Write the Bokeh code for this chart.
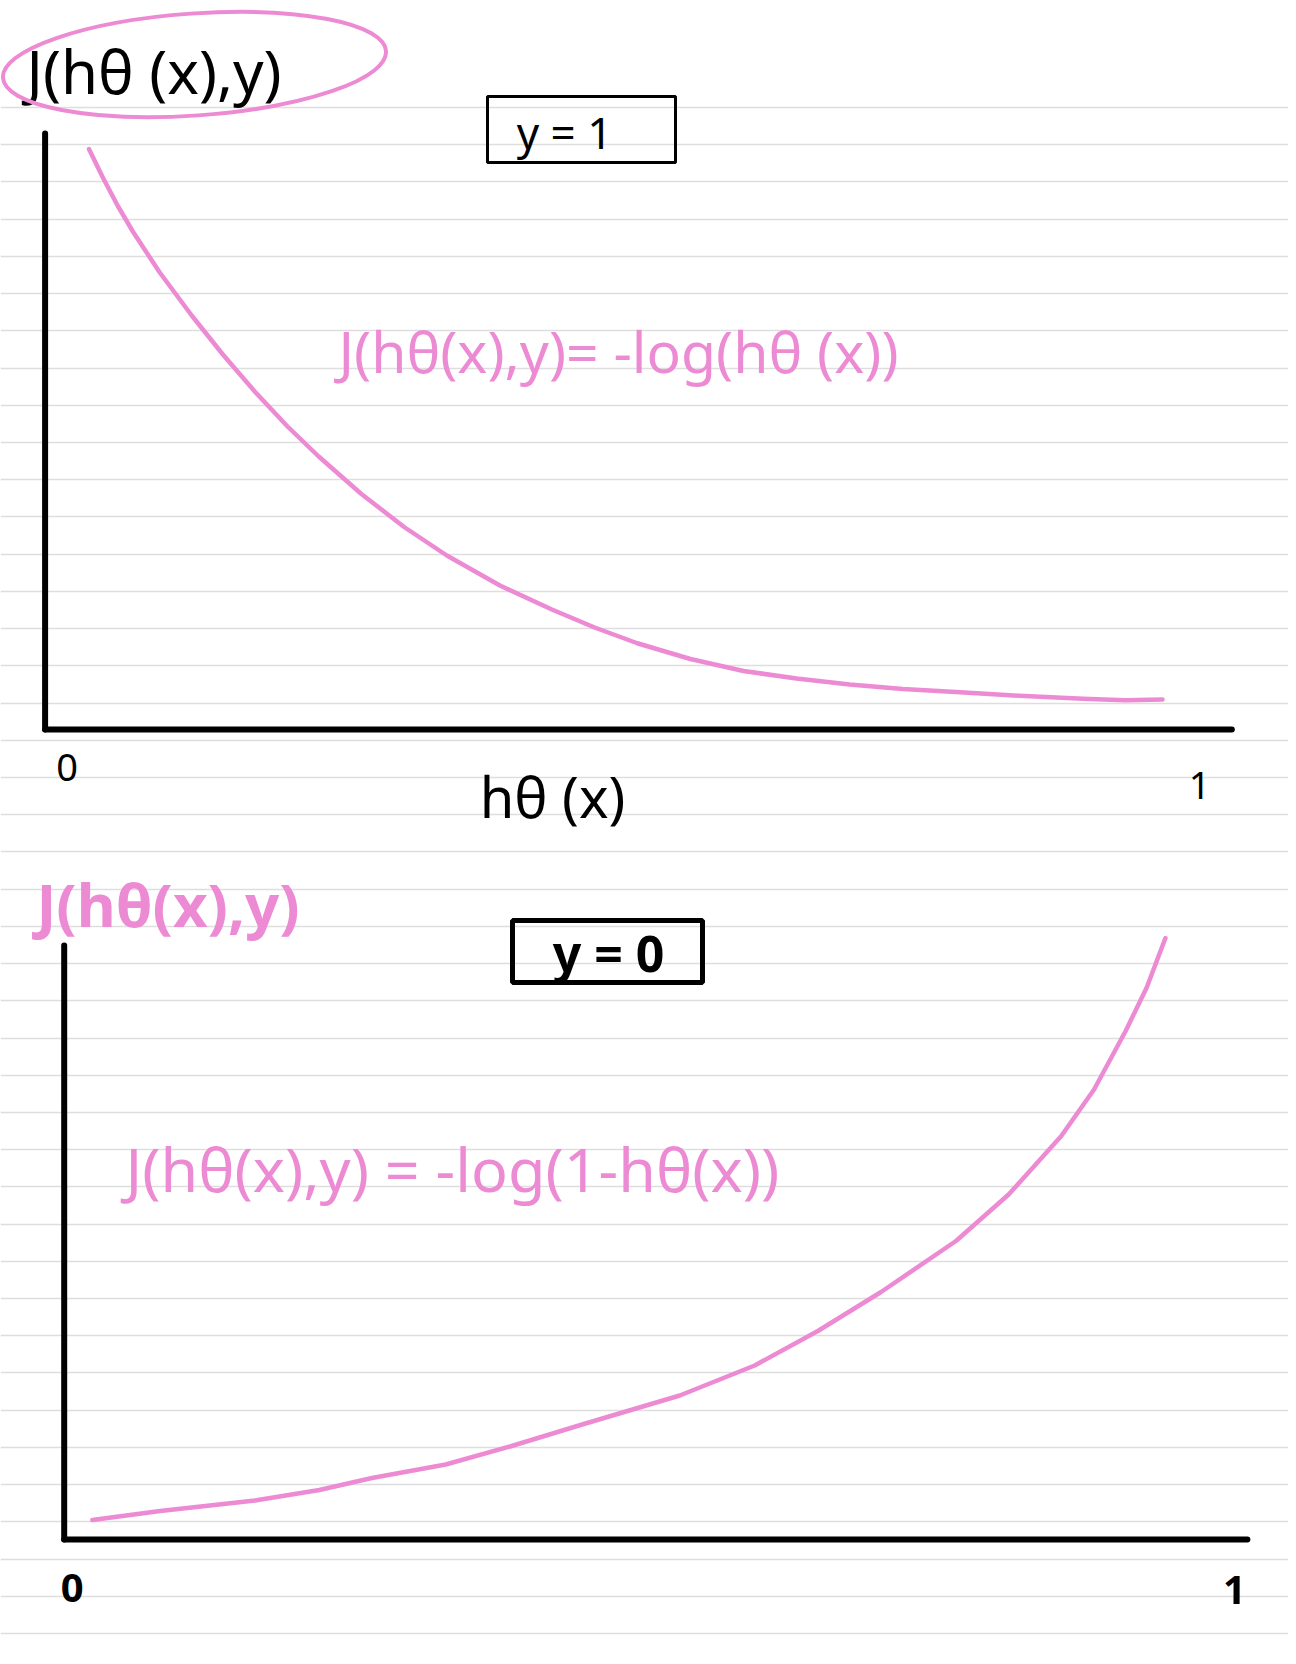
from bokeh.plotting import figure
from bokeh.models import Range1d
from bokeh.core.properties import value
from bokeh.embed import file_html
from bokeh.resources import INLINE

# ---------------- data ----------------
# top panel: y = 1, cost = -log(h)
top_h = [0.038, 0.050, 0.063, 0.076, 0.099, 0.127, 0.154, 0.182, 0.210, 0.237,
         0.274, 0.311, 0.348, 0.394, 0.439, 0.476, 0.513, 0.559, 0.605, 0.651,
         0.697, 0.743, 0.789, 0.844, 0.899, 0.936, 0.968]
top_J = [3.87, 3.68, 3.49, 3.32, 3.05, 2.76, 2.50, 2.25, 2.02, 1.82,
         1.57, 1.35, 1.16, 0.96, 0.80, 0.68, 0.575, 0.47, 0.39, 0.34,
         0.30, 0.27, 0.25, 0.225, 0.205, 0.195, 0.20]
# bottom panel: y = 0, cost = -log(1 - h)
bot_h = [0.024, 0.082, 0.163, 0.218, 0.263, 0.326, 0.381, 0.444, 0.526, 0.590,
         0.644, 0.698, 0.762, 0.807, 0.852, 0.880, 0.907, 0.925, 0.941]
bot_J = [0.13, 0.19, 0.26, 0.33, 0.41, 0.50, 0.62, 0.77, 0.96, 1.16,
         1.39, 1.65, 1.99, 2.30, 2.69, 3.00, 3.39, 3.68, 4.01]
tick_values = [0, 1]
tick_labels = ["0", "1"]

title_top = "J(hθ (x),y)"
case_top = "y = 1"
formula_top = "J(hθ(x),y)= -log(hθ (x))"
xlabel_top = "hθ (x)"
title_bot = "J(hθ(x),y)"
case_bot = "y = 0"
formula_bot = "J(hθ(x),y) = -log(1-hθ(x))"

# ---------------- styling / layout constants ----------------
PINK = "#ec8ad3"
RULE = "#dedede"
W, H = 1288, 1656
PX = 150.0  # pixels per cost unit
FONT = value("Noto Sans")

# page-pixel frame (y downwards)
p = figure(width=W, height=H, x_range=Range1d(0, W), y_range=Range1d(H, 0),
           output_backend="svg", toolbar_location=None,
           x_axis_location=None, y_axis_location=None, min_border=0)
p.grid.visible = False
p.outline_line_color = None
p.background_fill_color = "white"
p.border_fill_color = "white"

# panel geometry (page pixels)
T_X0, T_X1, T_Y0 = 44.6, 1199.0, 729.0
B_X0, B_X1, B_Y0 = 63.7, 1234.0, 1539.0


def xr(x0, x1):
    s = x1 - x0
    return Range1d(-x0 / s, (W - x0) / s)


def yr(y0):
    return Range1d((y0 - H) / PX, y0 / PX)


p.extra_x_ranges = {"tx": xr(T_X0, T_X1), "bx": xr(B_X0, B_X1)}
p.extra_y_ranges = {"ty": yr(T_Y0), "by": yr(B_Y0)}

# notebook rules
rules = [107 + 37.22 * k for k in range(42)]
p.hspan(y=rules, line_color=RULE, line_width=1.5)

# ---------------- top panel ----------------
top = dict(x_range_name="tx", y_range_name="ty")
p.line(top_h, top_J, line_color=PINK, line_width=4.5, line_cap="round", line_join="round", **top)
p.segment(x0=[0, 0], y0=[0, 0], x1=[0, 1.028], y1=[(T_Y0 - 133) / PX, 0],
          line_color="black", line_width=6, line_cap="round", **top)
p.text(x=tick_values, y=[0, 0], text=tick_labels, x_offset=[22, 0], y_offset=[38, 56],
       text_font=FONT, text_font_size="38px", text_color="black",
       text_align="center", text_baseline="middle", **top)

p.text(x=[552], y=[795], text=[xlabel_top], text_font=FONT,
       text_font_size="56px", text_align="center", text_baseline="middle", text_color="black")
p.text(x=[26], y=[70], text=[title_top], text_font=FONT,
       text_font_size="60px", text_align="left", text_baseline="middle", text_color="black")
p.ellipse(x=[194], y=[64], width=[384], height=[102], angle=0.07,
          fill_color=None, line_color=PINK, line_width=4)
p.rect(x=[581], y=[129], width=[188], height=[66], fill_color=None,
       line_color="black", line_width=3)
p.text(x=[564], y=[131], text=[case_top], text_font=FONT,
       text_font_size="44px", text_align="center", text_baseline="middle", text_color="black")
p.text(x=[338], y=[350], text=[formula_top], text_font=FONT,
       text_font_size="57px", text_align="left", text_baseline="middle", text_color=PINK)

# ---------------- bottom panel ----------------
bot = dict(x_range_name="bx", y_range_name="by")
p.line(bot_h, bot_J, line_color=PINK, line_width=4.5, line_cap="round", line_join="round", **bot)
p.segment(x0=[0, 0], y0=[0, 0], x1=[0, 1.011], y1=[(B_Y0 - 945) / PX, 0],
          line_color="black", line_width=6, line_cap="round", **bot)
p.text(x=tick_values, y=[0, 0], text=tick_labels, x_offset=[8, 0], y_offset=[48, 50],
       text_font=FONT, text_font_size="40px", text_font_style="bold",
       text_color="black", text_align="center", text_baseline="middle", **bot)

p.text(x=[36], y=[903], text=[title_bot], text_font=FONT,
       text_font_size="60px", text_font_style="bold", text_align="left",
       text_baseline="middle", text_color=PINK)
p.rect(x=[607], y=[951], width=[190], height=[62], fill_color=None,
       line_color="black", line_width=5)
p.text(x=[608], y=[952], text=[case_bot], text_font=FONT,
       text_font_size="50px", text_font_style="bold", text_align="center",
       text_baseline="middle", text_color="black")
p.text(x=[125], y=[1168], text=[formula_bot], text_font=FONT,
       text_font_size="61px", text_align="left", text_baseline="middle", text_color=PINK)

open("out.html", "w").write(file_html(p, INLINE))
